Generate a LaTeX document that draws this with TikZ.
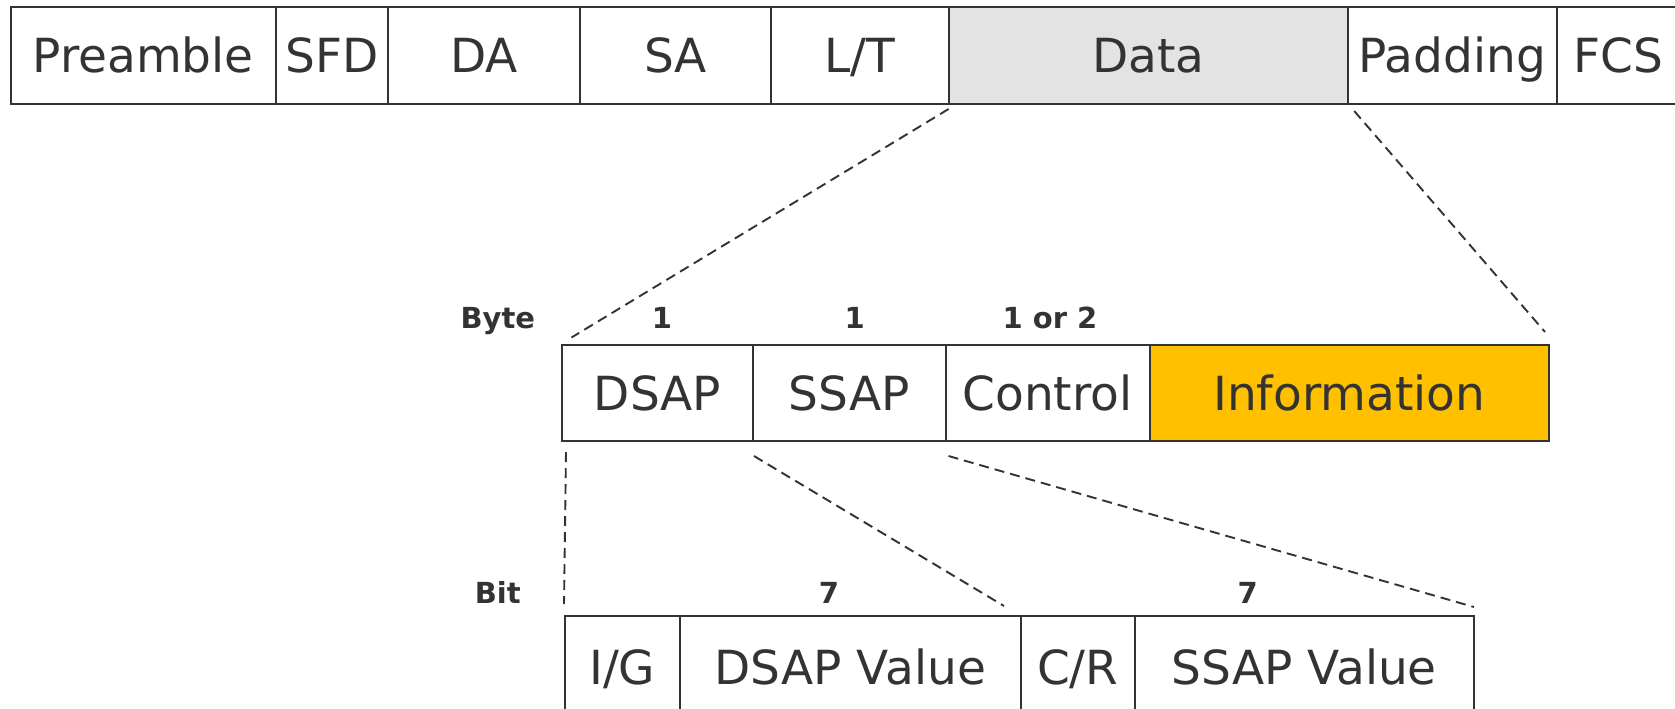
\documentclass[tikz,border=0pt]{standalone}
\usepackage{fontspec}
\setmainfont{DejaVu Sans}
\definecolor{ink}{HTML}{333333}
\definecolor{datagray}{HTML}{E3E3E3}
\definecolor{infoyellow}{HTML}{FFC000}
\begin{document}
\begin{tikzpicture}[x=1pt,y=-1pt,
  field/.style={draw=ink, line width=2pt, inner sep=0pt, outer sep=0pt, anchor=north west,
    text=ink, font=\fontsize{47}{56}\selectfont, text height=34.5pt, text depth=0pt},
  toprow/.style={field, minimum height=96pt},
  midrow/.style={field, minimum height=96pt},
  botrow/.style={field, minimum height=103pt},
  sizelabel/.style={text=ink, inner sep=0pt, font=\fontsize{29}{34}\selectfont\bfseries,
    text height=21pt, text depth=0pt},
  zoomline/.style={draw=ink, line width=1.9pt, dash pattern=on 10pt off 6pt}]
\useasboundingbox (0,0) rectangle (1675,709);
\begin{scope}
\clip (0,0) rectangle (1675,709);
% top row
\node[toprow, minimum width=264.9pt] (pre) at (10.7,7.5) {Preamble};
\node[toprow, minimum width=112.2pt] (sfd) at (275.6,7.5) {SFD};
\node[toprow, minimum width=192.3pt] (da) at (387.8,7.5) {DA};
\node[toprow, minimum width=191.2pt] (sa) at (580.1,7.5) {SA};
\node[toprow, minimum width=177.3pt] (lt) at (771.3,7.5) {L/T};
\node[toprow, minimum width=399.6pt, fill=datagray] (data) at (948.6,7.5) {Data};
\node[toprow, minimum width=208.3pt] (pad) at (1348.2,7.5) {Padding};
\node[toprow, minimum width=123.5pt] (fcs) at (1556.5,7.5) {FCS};
% middle row
\node[midrow, minimum width=191pt] (dsap) at (562,345) {DSAP};
\node[midrow, minimum width=192.5pt] (ssap) at (753,345) {SSAP};
\node[midrow, minimum width=204pt] (ctrl) at (945.5,345) {Control};
\node[midrow, minimum width=399.5pt, fill=infoyellow] (info) at (1149.5,345) {Information};
% bottom row
\node[botrow, minimum width=114.5pt] (ig) at (565,616) {I/G};
\node[botrow, minimum width=341.5pt] (dval) at (679.5,616) {DSAP Value};
\node[botrow, minimum width=113.5pt] (cr) at (1021,616) {C/R};
\node[botrow, minimum width=339.5pt] (sval) at (1134.5,616) {SSAP Value};
\end{scope}
% labels
\node[sizelabel] (byte) at (497.8,318) {Byte};
\node[sizelabel] (b1) at (662,318) {1};
\node[sizelabel] (b2) at (854.6,318) {1};
\node[sizelabel] (b3) at (1050,318) {1 or 2};
\node[sizelabel] (bit) at (497.8,593) {Bit};
\node[sizelabel] (s1) at (829,593) {7};
\node[sizelabel] (s2) at (1247.7,593) {7};
% zoom lines
\draw[zoomline] ([yshift=-5.5pt]data.south west) -- ([xshift=9.5pt,yshift=7.5pt]dsap.north west);
\draw[zoomline] ([xshift=6pt,yshift=-7.5pt]data.south east) -- ([xshift=-4pt,yshift=13pt]info.north east);
\draw[zoomline] ([xshift=4pt,yshift=-11pt]dsap.south west) -- ([xshift=-1pt,yshift=12pt]ig.north west);
\draw[zoomline] ([xshift=1pt,yshift=-15pt]ssap.south west) -- ([xshift=-17pt,yshift=10pt]cr.north west);
\draw[zoomline] ([xshift=3pt,yshift=-15pt]ctrl.south west) -- ([yshift=9pt]sval.north east);
\end{tikzpicture}
\end{document}
